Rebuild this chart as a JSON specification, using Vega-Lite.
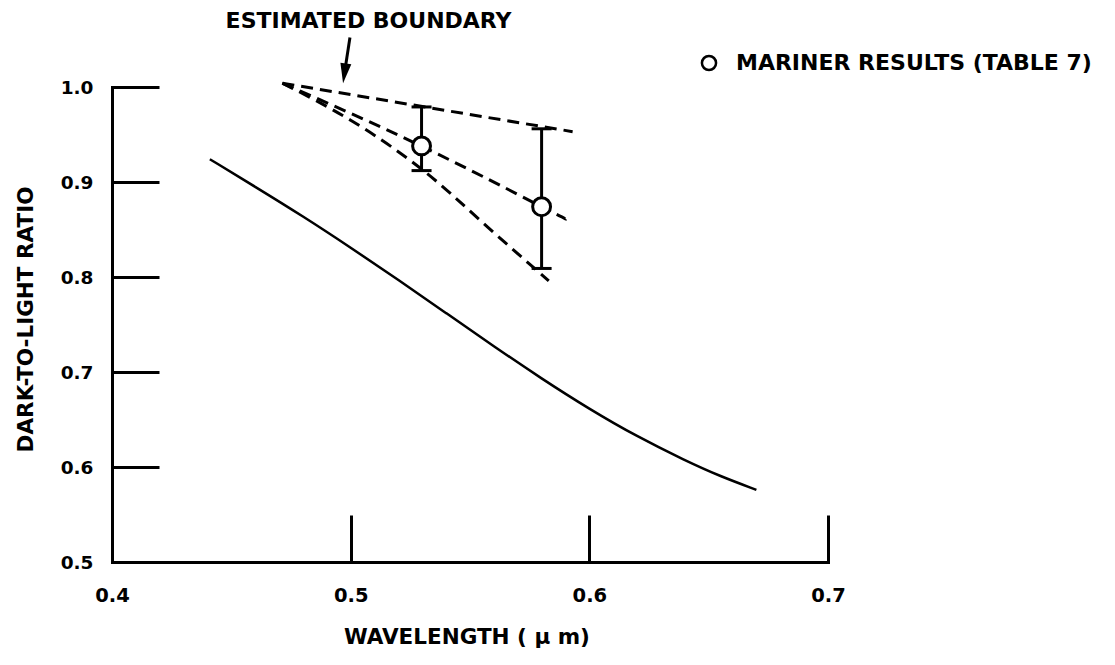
{
  "$schema": "https://vega.github.io/schema/vega-lite/v6.json",
  "width": 716,
  "height": 475,
  "autosize": {"type": "none"},
  "padding": {"left": 112, "top": 87, "right": 287, "bottom": 103},
  "background": "white",
  "config": {
    "view": {"stroke": null},
    "font": "DejaVu Sans",
    "axis": {
      "grid": false,
      "domainColor": "black",
      "domainWidth": 3,
      "domainCap": "square",
      "tickColor": "black",
      "tickWidth": 3,
      "labelColor": "black",
      "labelFont": "DejaVu Sans",
      "labelFontWeight": "bold",
      "titleColor": "black",
      "titleFont": "DejaVu Sans",
      "titleFontWeight": "bold",
      "labelFlush": false,
      "labelOverlap": false,
      "labelBound": false
    }
  },
  "datasets": {
    "curve": [
      {"wl": 0.441, "ratio": 0.924},
      {"wl": 0.46, "ratio": 0.895},
      {"wl": 0.48, "ratio": 0.864},
      {"wl": 0.5, "ratio": 0.831},
      {"wl": 0.52, "ratio": 0.797},
      {"wl": 0.54, "ratio": 0.762},
      {"wl": 0.56, "ratio": 0.727},
      {"wl": 0.58, "ratio": 0.693},
      {"wl": 0.6, "ratio": 0.661},
      {"wl": 0.62, "ratio": 0.632},
      {"wl": 0.64, "ratio": 0.607},
      {"wl": 0.655, "ratio": 0.59},
      {"wl": 0.67, "ratio": 0.576}
    ],
    "bounds": [
      {"bound": "upper", "wl": 0.4714, "ratio": 1.004},
      {"bound": "upper", "wl": 0.593, "ratio": 0.953},
      {"bound": "middle", "wl": 0.4714, "ratio": 1.004},
      {"bound": "middle", "wl": 0.5297, "ratio": 0.9377},
      {"bound": "middle", "wl": 0.58, "ratio": 0.874},
      {"bound": "middle", "wl": 0.5903, "ratio": 0.861},
      {"bound": "lower", "wl": 0.4714, "ratio": 1.004},
      {"bound": "lower", "wl": 0.5, "ratio": 0.965},
      {"bound": "lower", "wl": 0.53, "ratio": 0.913},
      {"bound": "lower", "wl": 0.555, "ratio": 0.858},
      {"bound": "lower", "wl": 0.583, "ratio": 0.796}
    ],
    "mariner": [
      {"series": "MARINER RESULTS (TABLE 7)", "wl": 0.5297, "ratio": 0.938, "low": 0.912, "high": 0.979},
      {"series": "MARINER RESULTS (TABLE 7)", "wl": 0.58, "ratio": 0.874, "low": 0.809, "high": 0.956}
    ],
    "caps": [
      {"wl": 0.5297, "ratio": 0.912},
      {"wl": 0.5297, "ratio": 0.979},
      {"wl": 0.58, "ratio": 0.809},
      {"wl": 0.58, "ratio": 0.956}
    ],
    "arrow": [
      {"label": "ESTIMATED BOUNDARY", "wl": 0.4997, "ratio": 1.052, "wl2": 0.4974, "ratio2": 1.0144, "tx": 0.5075, "ty": 1.0695}
    ]
  },
  "layer": [
    {
      "data": {"name": "curve"},
      "mark": {"type": "line", "color": "black", "strokeWidth": 2.5, "interpolate": "basis"},
      "encoding": {
        "x": {
          "field": "wl", "type": "quantitative",
          "scale": {"domain": [0.4, 0.7], "nice": false, "zero": false},
          "axis": {
            "values": [0.4, 0.5, 0.6, 0.7], "format": ".1f",
            "tickSize": -47, "labelPadding": 71, "labelFontSize": 19.5,
            "title": "WAVELENGTH ( μ m)", "titleFontSize": 21.5,
            "titleX": 354.5, "titleY": 75, "titleAlign": "center", "titleBaseline": "middle"
          }
        },
        "y": {
          "field": "ratio", "type": "quantitative",
          "scale": {"domain": [0.5, 1.0], "nice": false, "zero": false},
          "axis": {
            "values": [0.5, 0.6, 0.7, 0.8, 0.9, 1.0], "format": ".1f",
            "tickSize": -47, "labelPadding": 66, "labelFontSize": 18.5,
            "title": "DARK-TO-LIGHT RATIO", "titleFontSize": 21.5,
            "titleX": -86, "titleY": 232, "titleAngle": 270, "titleAlign": "center", "titleBaseline": "middle"
          }
        }
      }
    },
    {
      "data": {"name": "bounds"},
      "mark": {"type": "line", "color": "black", "strokeWidth": 3, "strokeDash": [12, 7], "interpolate": "natural"},
      "encoding": {
        "x": {"field": "wl", "type": "quantitative"},
        "y": {"field": "ratio", "type": "quantitative"},
        "detail": {"field": "bound"}
      }
    },
    {
      "data": {"name": "mariner"},
      "mark": {"type": "rule", "color": "black", "strokeWidth": 3},
      "encoding": {
        "x": {"field": "wl", "type": "quantitative"},
        "y": {"field": "low", "type": "quantitative"},
        "y2": {"field": "high"}
      }
    },
    {
      "data": {"name": "caps"},
      "mark": {"type": "tick", "orient": "horizontal", "color": "black", "opacity": 1, "size": 20, "thickness": 3},
      "encoding": {
        "x": {"field": "wl", "type": "quantitative"},
        "y": {"field": "ratio", "type": "quantitative"}
      }
    },
    {
      "data": {"name": "mariner"},
      "mark": {"type": "point", "shape": "circle", "filled": false, "fill": "white", "fillOpacity": 1, "opacity": 1, "strokeWidth": 3, "size": 320},
      "encoding": {
        "x": {"field": "wl", "type": "quantitative"},
        "y": {"field": "ratio", "type": "quantitative"},
        "color": {
          "field": "series", "type": "nominal",
          "scale": {"range": ["black"]},
          "legend": {
            "title": null, "orient": "none", "legendX": 586, "legendY": -35,
            "symbolType": "circle", "symbolSize": 200, "symbolStrokeWidth": 2.5,
            "symbolFillColor": "white", "symbolStrokeColor": "black", "symbolOpacity": 1,
            "labelFont": "DejaVu Sans", "labelFontWeight": "bold", "labelFontSize": 22,
            "labelColor": "black", "labelOffset": 16, "labelLimit": 0
          }
        }
      }
    },
    {
      "data": {"name": "arrow"},
      "mark": {"type": "rule", "color": "black", "strokeWidth": 3},
      "encoding": {
        "x": {"field": "wl", "type": "quantitative"},
        "y": {"field": "ratio", "type": "quantitative"},
        "x2": {"field": "wl2"},
        "y2": {"field": "ratio2"}
      }
    },
    {
      "data": {"name": "arrow"},
      "mark": {"type": "point", "shape": "M -0.55 -1 L 0.55 -1 L 0 1 Z", "filled": true, "color": "black", "opacity": 1, "size": 400, "angle": 8},
      "encoding": {
        "x": {"field": "wl2", "type": "quantitative"},
        "y": {"field": "ratio2", "type": "quantitative"}
      }
    },
    {
      "data": {"name": "arrow"},
      "mark": {"type": "text", "font": "DejaVu Sans", "fontWeight": "bold", "fontSize": 22, "color": "black", "align": "center", "baseline": "middle"},
      "encoding": {
        "x": {"field": "tx", "type": "quantitative"},
        "y": {"field": "ty", "type": "quantitative"},
        "text": {"field": "label"}
      }
    }
  ]
}
